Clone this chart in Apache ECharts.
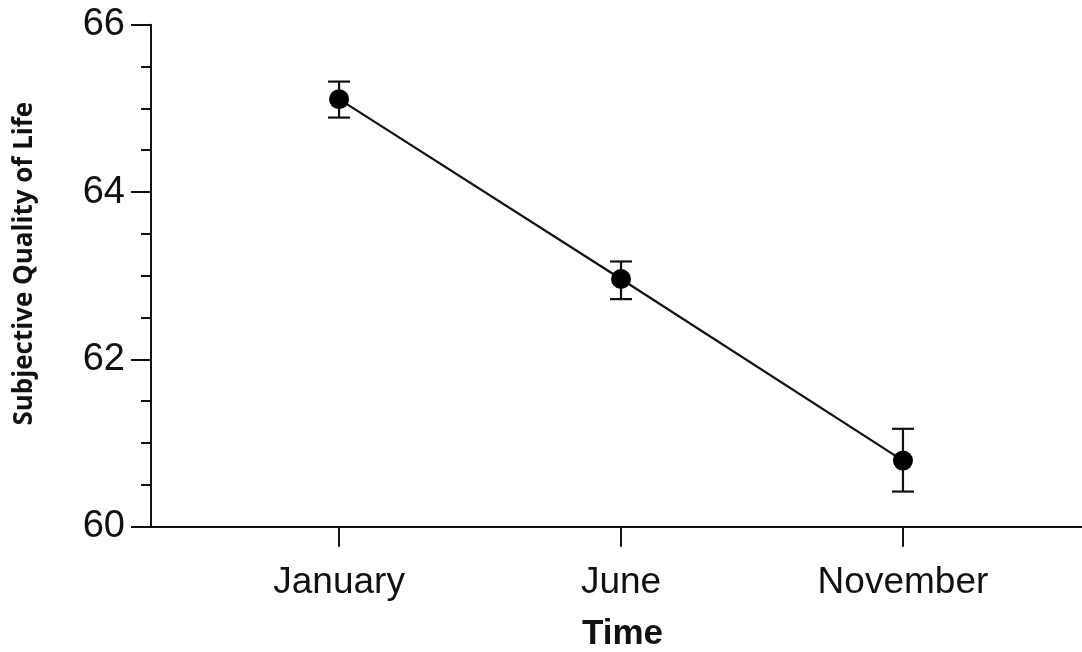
<!DOCTYPE html>
<html>
<head>
<meta charset="utf-8">
<script src="https://cdn.jsdelivr.net/npm/echarts@6/dist/echarts.min.js"></script>
<style>html,body{margin:0;padding:0;background:#fff}#c{width:1082px;height:652px}</style>
</head>
<body>
<div id="c"></div>
<script>
const categories = ['January', 'June', 'November'];
const meanValues = [65.11, 62.96, 60.79];
const upperValues = [65.32, 63.17, 61.17];
const lowerValues = [64.89, 62.72, 60.42];
const yTicks = [60, 62, 64, 66];

const xPos = categories.map((c, i) => i + 1);
const lineData = xPos.map((x, i) => [x, meanValues[i]]);
const errData = xPos.map((x, i) => [x, lowerValues[i], upperValues[i]]);

const chart = echarts.init(document.getElementById('c'), null, {renderer: 'canvas'});
const ink = '#111';
chart.setOption({
  animation: false,
  backgroundColor: '#fff',
  grid: {left: 151, right: 0, top: 24.7, bottom: 125.3, containLabel: false, outerBoundsMode: 'none'},
  xAxis: {
    type: 'value',
    min: 0.333,
    max: 3.635,
    name: 'Time',
    nameLocation: 'middle',
    nameGap: 90,
    nameTextStyle: {fontFamily: 'Liberation Sans', fontWeight: 'bold', fontSize: 35, color: ink, padding: [0, 0, 0, 12]},
    axisLine: {show: true, onZero: false, lineStyle: {color: ink, width: 2}},
    axisTick: {show: true, customValues: xPos, length: 20, lineStyle: {color: ink, width: 2}},
    axisLabel: {show: true, customValues: xPos, margin: 38, fontFamily: 'Liberation Sans', fontSize: 37, color: ink,
      formatter: v => categories[Math.round(v) - 1] || ''},
    splitLine: {show: false}
  },
  yAxis: {
    type: 'value',
    min: 60,
    max: 66,
    interval: 2,
    name: 'Subjective Quality of Life',
    nameLocation: 'middle',
    nameRotate: 90,
    nameGap: 113,
    nameTextStyle: {fontFamily: 'Open Sans', fontWeight: 'bold', fontSize: 26, color: ink, padding: [0, 0, 0, 24]},
    axisLine: {show: true, lineStyle: {color: ink, width: 2}},
    axisTick: {show: true, length: 20, lineStyle: {color: ink, width: 2}},
    minorTick: {show: true, splitNumber: 4, length: 10, lineStyle: {color: ink, width: 2}},
    axisLabel: {margin: 26, fontFamily: 'Liberation Sans', fontSize: 38, color: ink,
      customValues: yTicks},
    splitLine: {show: false},
    minorSplitLine: {show: false}
  },
  series: [
    {
      type: 'custom',
      z: 3,
      data: errData,
      renderItem: function (params, api) {
        const x = api.value(0);
        const lo = api.coord([x, api.value(1)]);
        const hi = api.coord([x, api.value(2)]);
        const hw = 11;
        const st = {stroke: ink, lineWidth: 2.2};
        return {
          type: 'group',
          children: [
            {type: 'line', shape: {x1: lo[0], y1: lo[1], x2: hi[0], y2: hi[1]}, style: st},
            {type: 'line', shape: {x1: lo[0] - hw, y1: lo[1], x2: lo[0] + hw, y2: lo[1]}, style: st},
            {type: 'line', shape: {x1: hi[0] - hw, y1: hi[1], x2: hi[0] + hw, y2: hi[1]}, style: st}
          ]
        };
      }
    },
    {
      type: 'line',
      z: 4,
      data: lineData,
      symbol: 'circle',
      symbolSize: 20,
      itemStyle: {color: '#000', borderWidth: 0},
      lineStyle: {color: ink, width: 2.2}
    }
  ]
});
</script>
</body>
</html>
